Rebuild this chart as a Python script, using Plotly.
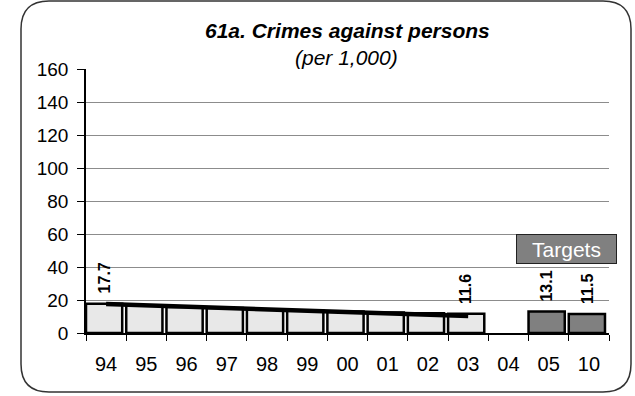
import plotly.graph_objects as go

categories = ['94', '95', '96', '97', '98', '99', '00', '01', '02', '03', '04', '05', '10']
actual_years = ['94', '95', '96', '97', '98', '99', '00', '01', '02', '03']
actual_values = [17.7, 16.6, 15.8, 15.1, 14.4, 13.7, 13.0, 12.4, 11.9, 11.6]
target_years = ['05', '10']
target_values = [13.1, 11.5]
trend_years = ['94', '03']
trend_values = [17.6, 10.3]
label_years = ['94', '03', '05', '10']
label_values = [17.7, 11.6, 13.1, 11.5]
y_ticks = [0, 20, 40, 60, 80, 100, 120, 140, 160]

W, H = 635, 396
L, R, T, B = 86, 609, 69, 333
FONT = "Arial, Liberation Sans, sans-serif"


def px(x):
    return (x - L) / (R - L)


def py(y):
    return (B - y) / (B - T)


fig = go.Figure()
fig.add_trace(go.Bar(x=actual_years, y=actual_values, width=0.9, offset=-0.5,
                     marker=dict(color='#e8e8e8', line=dict(color='#000000', width=2.5)),
                     showlegend=False, hoverinfo='x+y'))
fig.add_trace(go.Bar(x=target_years, y=target_values, width=0.9, offset=-0.5,
                     marker=dict(color='#808080', line=dict(color='#000000', width=2.5)),
                     showlegend=False, hoverinfo='x+y'))
fig.add_trace(go.Scatter(x=trend_years, y=trend_values, mode='lines',
                         line=dict(color='#000000', width=4.5), showlegend=False,
                         hoverinfo='skip'))

annotations = []
for yr, v in zip(label_years, label_values):
    annotations.append(dict(x=categories.index(yr) - 0.05, y=v, xref='x', yref='y',
                            text=f"{v:.1f}",
                            textangle=-90, showarrow=False, xanchor='center',
                            yanchor='bottom', yshift=8,
                            font=dict(family=FONT, size=16, color='#000000', weight='bold')))
annotations.append(dict(x=px(347), y=py(31), xref='paper', yref='paper',
                        text="<b><i>61a. Crimes against persons</i></b>", showarrow=False,
                        xanchor='center', yanchor='middle',
                        font=dict(family=FONT, size=21, color='#000000')))
annotations.append(dict(x=px(346), y=py(58), xref='paper', yref='paper',
                        text="<i>(per 1,000)</i>", showarrow=False,
                        xanchor='center', yanchor='middle',
                        font=dict(family=FONT, size=21, color='#000000')))
annotations.append(dict(x=px(566.5), y=py(249), xref='paper', yref='paper',
                        text="Targets", showarrow=False, xanchor='center', yanchor='middle',
                        width=99, height=28, bgcolor='#808080', bordercolor='#222222',
                        borderwidth=1, borderpad=0,
                        font=dict(family=FONT, size=21, color='#ffffff')))

# rounded border around the whole chart
x0, x1, y0, y1 = px(21), px(631), py(1), py(392)
rx, ry = 28 / (R - L), 28 / (B - T)
path = (f"M {x0+rx},{y0} L {x1-rx},{y0} Q {x1},{y0} {x1},{y0-ry} "
        f"L {x1},{y1+ry} Q {x1},{y1} {x1-rx},{y1} "
        f"L {x0+rx},{y1} Q {x0},{y1} {x0},{y1+ry} "
        f"L {x0},{y0-ry} Q {x0},{y0} {x0+rx},{y0} Z")

fig.update_layout(
    width=W, height=H,
    margin=dict(l=L, r=W - R, t=T, b=H - B, pad=0),
    paper_bgcolor='#ffffff', plot_bgcolor='#ffffff',
    barmode='overlay',
    annotations=annotations,
    shapes=[dict(type='path', path=path, xref='paper', yref='paper',
                 line=dict(color='#333333', width=1.5), layer='below')],
    font=dict(family=FONT, color='#000000'),
)
fig.update_xaxes(type='category', categoryorder='array', categoryarray=categories,
                 range=[-0.5, len(categories) - 0.5], tickson='boundaries',
                 ticks='outside', ticklen=6, tickcolor='#000000', tickwidth=1,
                 showline=True, linecolor='#000000', linewidth=2,
                 showgrid=False, ticklabelstandoff=12,
                 tickfont=dict(family=FONT, size=20, color='#000000'))
fig.update_yaxes(range=[0, 160], tickvals=y_ticks, ticks='outside', ticklen=7,
                 tickcolor='#000000', showline=True, linecolor='#000000', linewidth=1.5,
                 showgrid=True, gridcolor='#8c8c8c', gridwidth=1, zeroline=False,
                 ticklabelstandoff=5,
                 tickfont=dict(family=FONT, size=19, color='#000000'))

fig.write_html("out.html", config={'displayModeBar': False},
               post_script="document.body.style.margin='0';")
